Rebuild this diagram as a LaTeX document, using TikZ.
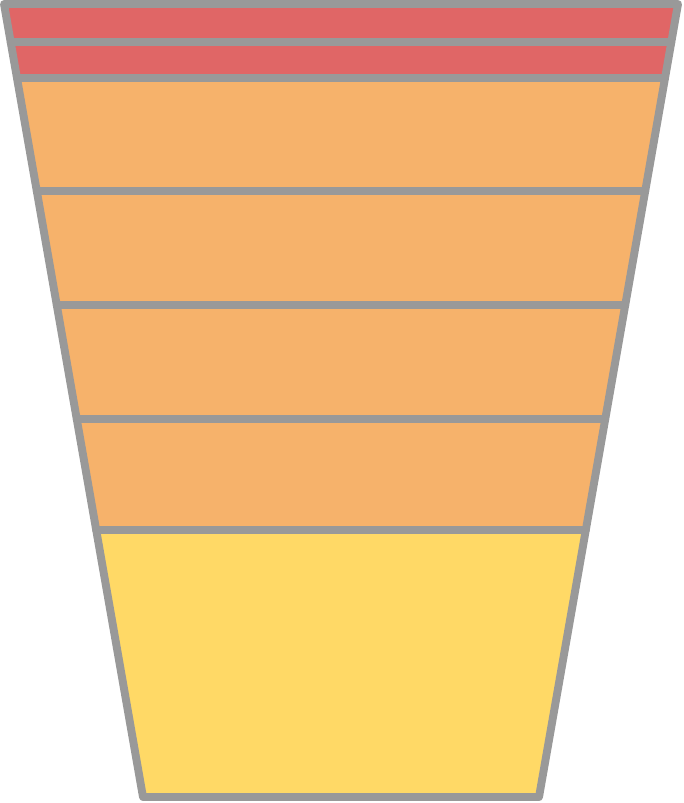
\documentclass[tikz,border=0pt]{standalone}
\usepackage{xcolor}
\definecolor{edgegray}{HTML}{999999}
\definecolor{redband}{HTML}{E06666}
\definecolor{orangeband}{HTML}{F6B26B}
\definecolor{yellowband}{HTML}{FFD966}

\begin{document}
\begin{tikzpicture}[
    x=0.02cm, y=-0.02cm,
    band/.style={draw=edgegray, line width=4.5pt, line join=round},
  ]

  \useasboundingbox (0,0) rectangle (683,803);

  % funnel bands, top to bottom
  \foreach \ya/\yb/\col in {4/42/redband, 42/78/redband, 78/191/orangeband,
      191/305/orangeband, 305/419/orangeband, 419/530/orangeband,
      530/797/yellowband}{
    \pgfmathsetmacro\la{4+0.17528*(\ya-4)}
    \pgfmathsetmacro\lb{4+0.17528*(\yb-4)}
    \path[band, fill=\col] (\la,\ya) -- (\lb,\yb) -- (682-\lb,\yb)
      -- (682-\la,\ya) -- cycle;
  }

\end{tikzpicture}
\end{document}
